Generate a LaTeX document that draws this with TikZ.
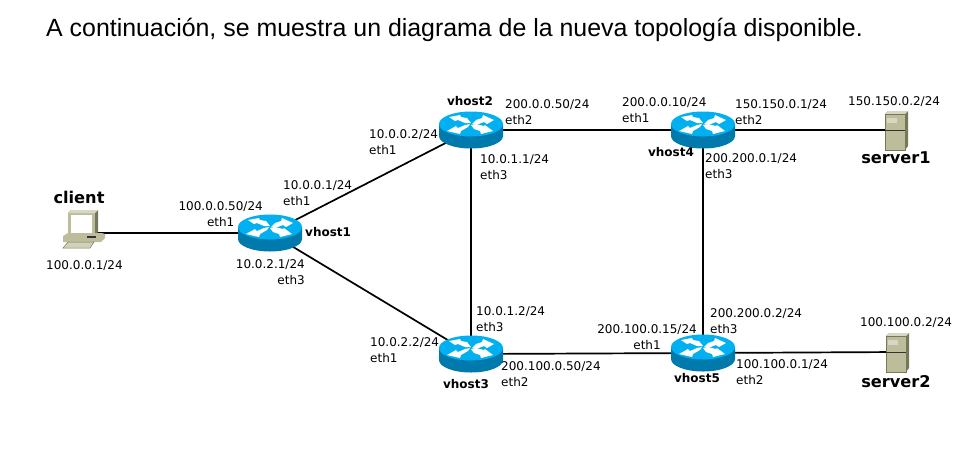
\documentclass[tikz,border=0pt]{standalone}
\usepackage{fontspec}
\setmainfont{DejaVu Sans}
\newfontfamily\titlefont{Liberation Sans}
\usetikzlibrary{shapes.geometric}
\definecolor{routertop}{HTML}{00B0F0}
\definecolor{routerside}{HTML}{0079AC}
\definecolor{boxbeige}{HTML}{BDBD9B}
\definecolor{boxdark}{HTML}{77775C}
\tikzset{
  routerbox/.style={ellipse, minimum width=64pt, minimum height=37pt, inner sep=0pt},
  hostbox/.style={rectangle, minimum width=24pt, minimum height=38pt, inner sep=0pt},
  serverbox/.style={rectangle, minimum width=22pt, minimum height=40pt, inner sep=0pt},
  addr/.style={align=left, anchor=north west, inner sep=0pt, font=\fontsize{12}{16}\selectfont},
  addrr/.style={align=right, anchor=north east, inner sep=0pt, font=\fontsize{12}{16}\selectfont},
  addrc/.style={align=center, anchor=north east, inner sep=0pt, font=\fontsize{12}{16}\selectfont},
  vname/.style={inner sep=0pt, font=\fontsize{12}{14}\selectfont\bfseries},
  ename/.style={inner sep=0pt, font=\fontsize{16.2}{18}\selectfont\bfseries},
  link/.style={line width=1.7pt, black}
}
% router icon
\newcommand{\routericon}[1]{
  \begin{scope}[shift={(#1)}]
    \fill[routerside] (-32,-6) -- (-32,6) arc (180:0:32 and 12.5) -- (32,-6) -- cycle;
    \fill[routertop] (0,-6) ellipse (32 and 12.5);
    \fill[white] (-22,-13) -- (-11,-15) -- (-10,-13) -- (-4,-12) -- (0,-7) -- (-6,-7) -- (-13,-10) -- (-16,-9) -- cycle;
    \fill[white] (23,-10) -- (12,-15) -- (11,-12) -- (5,-10) -- (1,-6) -- (5,-5) -- (13,-8) -- (16,-6) -- cycle;
    \fill[white] (-24,1) -- (-11,4) -- (-10,1) -- (-3,-3) -- (-1,-6) -- (-6,-5) -- (-13,-2) -- (-15,-4) -- cycle;
    \fill[white] (22,1) -- (10,4) -- (9,1) -- (3,-1) -- (0,-5) -- (5,-6) -- (13,-4) -- (14,-5) -- cycle;
  \end{scope}
}
% server icon
\newcommand{\servericon}[1]{
  \begin{scope}[shift={(#1)}]
    \fill[boxdark] (-11,-16) -- (-8,-19) -- (12,-19) -- (12,16) -- (9,20) -- (-11,20) -- cycle;
    \fill[boxbeige] (-11,-16) rectangle (9,20);
    \fill[boxbeige!60!white] (-11,-16) -- (-8,-19) -- (12,-19) -- (9,-16) -- cycle;
    \draw[boxdark, line width=.6pt] (-11,-16) rectangle (9,20);
    \fill[boxbeige!60!white] (-9,-12) rectangle (1,-7);
    \draw[black!80, line width=1pt] (-11,0) -- (9,0);
  \end{scope}
}
% client icon
\newcommand{\clienticon}[1]{
  \begin{scope}[shift={(#1)}]
    \fill[boxdark] (-16,-20) -- (-13,-23) -- (14,-23) -- (14,-1) -- (11,2) -- (-16,2) -- cycle;
    \fill[boxbeige] (-16,-20) rectangle (11,2);
    \fill[boxbeige!60!white] (-16,-20) -- (-13,-23) -- (14,-23) -- (11,-20) -- cycle;
    \fill[white] (-13,-18) rectangle (8,0);
    \fill[boxbeige] (-21,3) -- (-16,0) -- (18,0) -- (21,1) -- (21,5) -- (17,9) -- (-21,9) -- cycle;
    \fill[black!80] (3,3) rectangle (12,5);
    \fill[boxbeige!70!white] (-16,9) -- (10,9) -- (6,15) -- (-21,15) -- cycle;
    \draw[boxdark, line width=.5pt] (-16,9) -- (10,9) -- (6,15) -- (-21,15) -- cycle;
  \end{scope}
}
\begin{document}
\begin{tikzpicture}[x=1pt, y=-1pt]
  \useasboundingbox (0,0) rectangle (966,451);

  \node[anchor=base west, inner sep=0pt, font=\fontsize{24.9}{28}\selectfont\titlefont] (title) at (46,36)
    {A continuación, se muestra un diagrama de la nueva topología disponible.};

  \node[hostbox] (client) at (84,233) {};
  \node[routerbox] (vhost1) at (270,233) {};
  \node[routerbox] (vhost2) at (471,130) {};
  \node[routerbox] (vhost3) at (471,354) {};
  \node[routerbox] (vhost4) at (703,130) {};
  \node[routerbox] (vhost5) at (703,353) {};
  \node[serverbox] (server1) at (896,130) {};
  \node[serverbox] (server2) at (897,352) {};

  \draw[link]
    (client.center) -- (vhost1.center)
    (vhost1.center) -- (vhost2.center)
    (vhost1.center) -- (vhost3.center)
    (vhost2.center) -- (vhost3.center)
    (vhost2.center) -- (vhost4.center)
    (vhost3.center) -- (vhost5.center)
    (vhost4.center) -- (vhost5.center)
    (vhost4.center) -- (server1.center)
    (vhost5.center) -- (server2.center);

  \clienticon{client}
  \foreach \r in {vhost1, vhost2, vhost3, vhost4, vhost5}
  {
    \routericon{\r}
  }
  \servericon{server1}
  \servericon{server2}

  % host names
  \node[ename] (nclient) at (79,197) {client};
  \node[ename] (nserver1) at (896,158) {server1};
  \node[ename] (nserver2) at (896,382) {server2};
  \node[vname, anchor=west] (nvhost1) at (305,232) {vhost1};
  \node[vname] (nvhost2) at (470,101) {vhost2};
  \node[vname] (nvhost3) at (466,384) {vhost3};
  \node[vname] (nvhost4) at (671,152) {vhost4};
  \node[vname] (nvhost5) at (697,378) {vhost5};

  % addresses
  \node[addr] (a1) at (46,260) {100.0.0.1/24};
  \node[addrc] (a2) at (263,201) {100.0.0.50/24\\eth1};
  \node[addr] (a3) at (283,180) {10.0.0.1/24\\eth1};
  \node[addrr] (a4) at (305,259) {10.0.2.1/24\\eth3};
  \node[addr] (a5) at (369,129) {10.0.0.2/24\\eth1};
  \node[addr] (a6) at (505,99) {200.0.0.50/24\\eth2};
  \node[addr] (a7) at (480,154) {10.0.1.1/24\\eth3};
  \node[addr] (a8) at (476,306) {10.0.1.2/24\\eth3};
  \node[addr] (a9) at (370,337) {10.0.2.2/24\\eth1};
  \node[addr] (a10) at (501,361) {200.100.0.50/24\\eth2};
  \node[addr] (a11) at (622,97) {200.0.0.10/24\\eth1};
  \node[addr] (a12) at (735,99) {150.150.0.1/24\\eth2};
  \node[addr] (a13) at (705,153) {200.200.0.1/24\\eth3};
  \node[addr] (a14) at (848,96) {150.150.0.2/24};
  \node[addr] (a15) at (710,308) {200.200.0.2/24\\eth3};
  \node[addrc] (a16) at (697,324) {200.100.0.15/24\\eth1};
  \node[addr] (a17) at (736,359) {100.100.0.1/24\\eth2};
  \node[addr] (a18) at (860,317) {100.100.0.2/24};
\end{tikzpicture}
\end{document}
